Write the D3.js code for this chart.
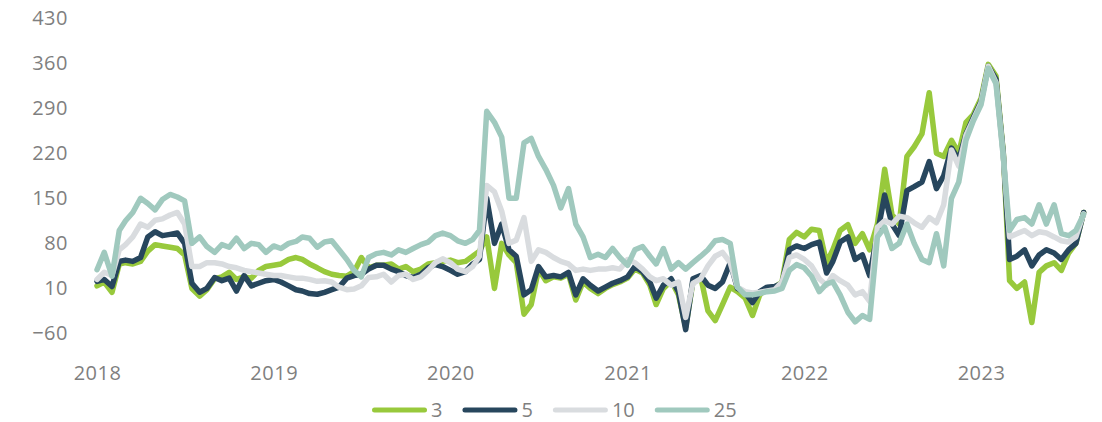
<!DOCTYPE html>
<html>
<head>
<meta charset="utf-8">
<script src="https://cdn.jsdelivr.net/npm/d3@7"></script>
<style>
  body { margin: 0; background: #fff; }
  text { font-family: "Open Sans", sans-serif; fill: #7f7f7f; }
</style>
</head>
<body>
<div id="chart"></div>
<script>
// semi-monthly observation dates
var dates = [
  "2018-01-01","2018-01-16","2018-02-01","2018-02-16","2018-03-01","2018-03-16","2018-04-01","2018-04-16","2018-05-01","2018-05-16","2018-06-01","2018-06-16",
  "2018-07-01","2018-07-16","2018-08-01","2018-08-16","2018-09-01","2018-09-16","2018-10-01","2018-10-16","2018-11-01","2018-11-16","2018-12-01","2018-12-16",
  "2019-01-01","2019-01-16","2019-02-01","2019-02-16","2019-03-01","2019-03-16","2019-04-01","2019-04-16","2019-05-01","2019-05-16","2019-06-01","2019-06-16",
  "2019-07-01","2019-07-16","2019-08-01","2019-08-16","2019-09-01","2019-09-16","2019-10-01","2019-10-16","2019-11-01","2019-11-16","2019-12-01","2019-12-16",
  "2020-01-01","2020-01-16","2020-02-01","2020-02-16","2020-03-01","2020-03-16","2020-04-01","2020-04-16","2020-05-01","2020-05-16","2020-06-01","2020-06-16",
  "2020-07-01","2020-07-16","2020-08-01","2020-08-16","2020-09-01","2020-09-16","2020-10-01","2020-10-16","2020-11-01","2020-11-16","2020-12-01","2020-12-16",
  "2021-01-01","2021-01-16","2021-02-01","2021-02-16","2021-03-01","2021-03-16","2021-04-01","2021-04-16","2021-05-01","2021-05-16","2021-06-01","2021-06-16",
  "2021-07-01","2021-07-16","2021-08-01","2021-08-16","2021-09-01","2021-09-16","2021-10-01","2021-10-16","2021-11-01","2021-11-16","2021-12-01","2021-12-16",
  "2022-01-01","2022-01-16","2022-02-01","2022-02-16","2022-03-01","2022-03-16","2022-04-01","2022-04-16","2022-05-01","2022-05-16","2022-06-01","2022-06-16",
  "2022-07-01","2022-07-16","2022-08-01","2022-08-16","2022-09-01","2022-09-16","2022-10-01","2022-10-16","2022-11-01","2022-11-16","2022-12-01","2022-12-16",
  "2023-01-01","2023-01-16","2023-02-01","2023-02-16","2023-03-01","2023-03-16","2023-04-01","2023-04-16","2023-05-01","2023-05-16","2023-06-01","2023-06-16",
  "2023-07-01","2023-07-16","2023-08-01"
];

var s3 = [
  14,20,4,48,50,48,52,68,78,76, 74,72,62,10,-2,8,25,28,35,24,
  28,26,38,44,46,48,55,58,55,48, 42,36,32,30,29,36,58,42,46,46,
  48,40,44,36,40,48,50,52,54,50, 52,60,68,90,10,80,62,50,-30,-15,
  40,22,28,26,32,-8,20,10,2,10, 16,20,26,40,34,15,-15,10,22,0,
  -50,20,28,-25,-40,-15,12,5,-5,-32, 0,10,12,20,86,97,90,102,100,50,
  70,100,109,80,95,70,110,195,125,110, 215,230,250,314,220,215,240,220,268,280,
  305,358,340,222,22,10,20,-43,35,45, 50,38,65,80,128
];
var s5 = [
  21,24,13,52,54,52,58,90,98,92, 94,96,80,18,4,10,27,22,26,6,
  30,14,18,22,24,20,14,8,6,2, 1,4,8,12,26,30,32,40,46,46,
  40,36,30,27,32,42,47,44,38,32, 36,48,55,150,80,110,70,60,0,8,
  44,28,30,28,35,0,25,15,6,12, 18,22,28,44,36,20,-5,15,25,5,
  -54,25,30,15,10,20,50,10,3,-12, 5,12,13,18,70,76,72,78,82,34,
  52,82,90,55,62,30,95,155,110,92, 162,168,175,207,165,185,228,210,250,275,
  300,355,335,220,55,60,70,45,62,70, 65,55,70,80,128
];
var s10 = [
  24,35,30,70,78,90,110,105,116,118, 124,128,110,44,44,50,50,48,44,42,
  38,36,34,32,30,30,28,26,26,24, 21,22,20,12,8,9,14,27,28,32,
  20,30,32,24,28,38,50,56,50,40, 36,44,60,170,160,130,80,85,120,52,
  70,66,58,52,48,38,40,38,40,40, 42,40,55,50,40,28,22,25,15,20,
  -35,18,25,45,60,66,50,12,5,3, 4,6,8,20,58,62,55,45,25,15,
  30,22,15,0,5,-10,105,115,110,122, 120,112,105,120,112,140,225,200,248,272,
  298,355,330,215,90,95,100,92,98,96, 90,84,82,90,126
];
var s25 = [
  39,66,29,100,115,128,150,142,132,148, 156,152,146,80,90,75,66,78,74,88,
  72,80,78,66,76,72,80,83,90,88, 74,82,84,70,55,38,28,58,64,66,
  62,70,66,72,78,82,92,96,92,84, 80,86,100,285,268,245,150,150,236,243,
  215,195,170,135,165,110,90,58,63,58, 72,58,46,70,75,60,48,72,40,50,
  40,50,60,70,84,86,80,12,0,0, 2,5,6,10,38,47,42,29,5,17,
  20,0,-27,-42,-32,-38,90,105,72,80, 110,80,55,50,95,45,150,175,240,270,
  295,352,328,215,100,117,120,110,140,110, 140,95,92,100,125
];

var seriesNames = ["3", "5", "10", "25"];
var seriesColors = ["#98c93c", "#27465d", "#d9dcdf", "#a0c9be"];
var yTicks = [-60, 10, 80, 150, 220, 290, 360, 430];
var yearTicks = ["2018", "2019", "2020", "2021", "2022", "2023"];

var svgWidth = 1102;
var svgHeight = 422;

var svg = d3.select("#chart")
    .append("svg")
    .attr("width", svgWidth)
    .attr("height", svgHeight);

var parseDate = d3.timeParse("%Y-%m-%d");
var parsedDates = dates.map(parseDate);

var xScale = d3.scaleTime()
    .domain([parseDate("2018-01-01"), parseDate("2023-01-01")])
    .range([97, 981]);

var yScale = d3.scaleLinear()
    .domain([-60, 430])
    .range([333.5, 18]);

// y axis labels only
var leftAxis = d3.axisLeft(yScale).tickValues(yTicks).tickSize(0).tickPadding(0);
svg.append("g")
    .attr("transform", "translate(68,0)")
    .call(leftAxis)
    .call(g => g.select(".domain").remove())
    .selectAll("text")
    .attr("font-family", "Open Sans")
    .attr("font-size", "20px")
    .attr("letter-spacing", "0.5px")
    .attr("fill", "#7f7f7f");

// x axis year labels
var bottomAxis = d3.axisBottom(xScale)
    .tickValues(yearTicks.map(yr => parseDate(yr + "-01-01")))
    .tickFormat(d3.timeFormat("%Y"))
    .tickSize(0)
    .tickPadding(0);
svg.append("g")
    .attr("transform", "translate(0,366)")
    .call(bottomAxis)
    .call(g => g.select(".domain").remove())
    .selectAll("text")
    .attr("font-family", "Open Sans")
    .attr("font-size", "20px")
    .attr("letter-spacing", "0.5px")
    .attr("fill", "#7f7f7f");

var allSeries = [s3, s5, s10, s25];

var line = d3.line()
    .x(d => xScale(d.date))
    .y(d => yScale(d.value));

allSeries.forEach(function (values, i) {
    var pts = values.map((v, j) => ({ date: parsedDates[j], value: v }));
    svg.append("path")
        .datum(pts)
        .attr("fill", "none")
        .attr("stroke", seriesColors[i])
        .attr("stroke-width", 5.5)
        .attr("stroke-linejoin", "round")
        .attr("stroke-linecap", "round")
        .attr("d", line);
});

// legend
var legend = svg.append("g").attr("transform", "translate(372,410)");
var lx = 0;
seriesNames.forEach(function (name, i) {
    var item = legend.append("g").attr("transform", `translate(${lx},0)`);
    item.append("line")
        .attr("x1", 2.5).attr("x2", 52.5)
        .attr("y1", 0).attr("y2", 0)
        .attr("stroke", seriesColors[i])
        .attr("stroke-width", 5)
        .attr("stroke-linecap", "round");
    var t = item.append("text")
        .attr("x", 59)
        .attr("y", 0)
        .attr("dy", "0.35em")
        .attr("font-size", "20px")
        .text(name);
    lx += 59 + t.node().getComputedTextLength() + 20;
});
</script>
</body>
</html>
